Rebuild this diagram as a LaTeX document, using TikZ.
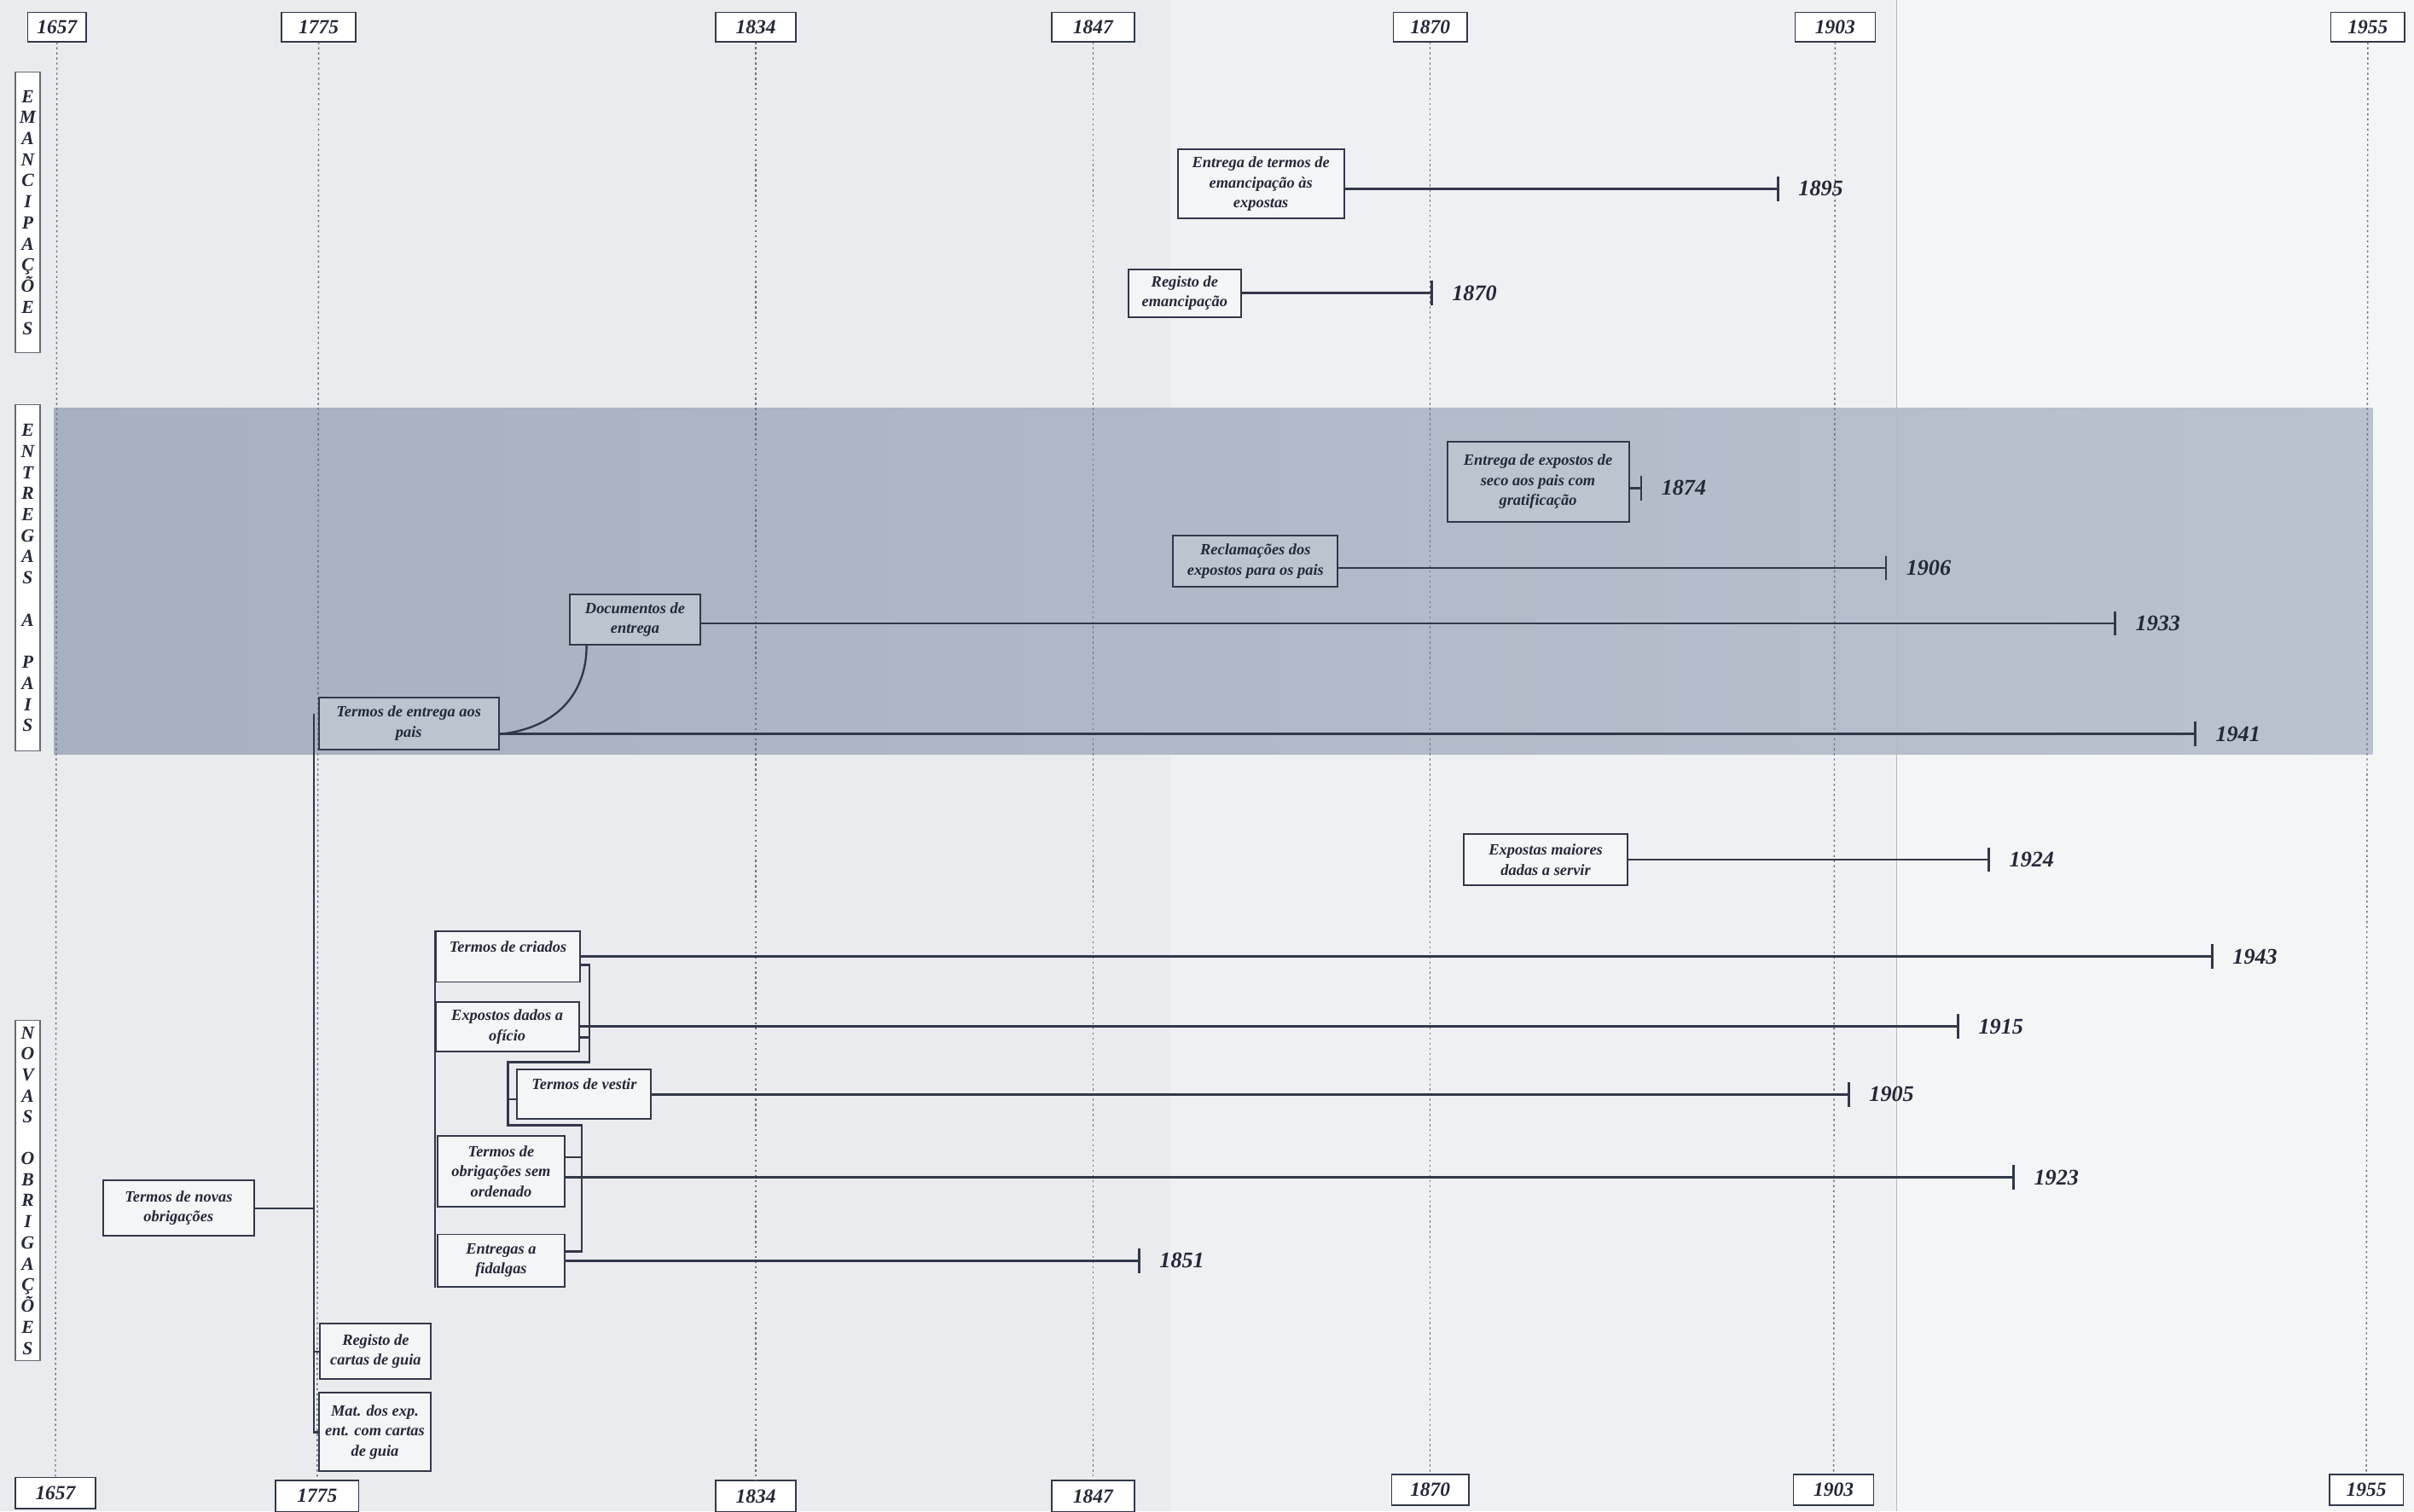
\documentclass[tikz,border=0pt]{standalone}
\usepackage{fontspec}
\setmainfont{Liberation Serif}
\definecolor{ink}{RGB}{50,56,74}
\definecolor{txt}{RGB}{36,40,56}
\definecolor{bandL}{RGB}{166,176,192}
\definecolor{bandR}{RGB}{186,194,207}
\definecolor{bandbox}{RGB}{188,196,208}
\definecolor{paperA}{RGB}{233,235,238}
\definecolor{paperB}{RGB}{239,240,243}
\definecolor{paperC}{RGB}{244,245,247}
\definecolor{dotc}{RGB}{105,112,128}
\definecolor{boxf}{RGB}{244,245,247}
\newcommand{\spanline}[4]{%
  \coordinate (#1-s) at ([yshift=-#2pt]#1.east);
  \coordinate (#1-e) at (#1-s -| #3,0);
  \draw[tl] (#1-s) -- (#1-e);
  \draw[tl] ([yshift=8pt]#1-e) -- ([yshift=-8pt]#1-e);
  \node[yr] (#1-y) at ([xshift=13pt]#1-e) {#4};
}
\begin{document}
\begin{tikzpicture}[x=1pt,y=-1pt,
  bx/.style={draw=ink, line width=1.1pt, fill=boxf, align=center,
    font=\fontsize{10.2}{13}\selectfont\bfseries\itshape, text=txt, inner sep=1pt},
  bb/.style={bx, fill=bandbox},
  yr/.style={font=\fontsize{14.5}{16}\selectfont\bfseries\itshape, text=txt, anchor=west, inner sep=0pt},
  ybox/.style={draw=ink, line width=0.9pt, fill=white, minimum height=19pt,
    font=\fontsize{13}{14}\selectfont\bfseries\itshape, text=txt, inner sep=0pt},
  cat/.style={draw=ink!75, line width=0.7pt, fill=white, minimum width=16pt, align=center,
    font=\fontsize{12}{13.7}\selectfont\bfseries\itshape, text=txt, inner sep=0pt},
  tl/.style={draw=ink, line width=1.6pt},
  cn/.style={draw=ink, line width=1.3pt},
  vl/.style={draw=dotc, line width=0.8pt, dash pattern=on 1.3pt off 2pt},
]
% background (scanned pages)
\useasboundingbox (0,0) rectangle (1568,982);
\fill[paperA] (0,0) rectangle (1568,982);
\fill[paperB] (760,0) rectangle (1232,982);
\fill[paperC] (1232,0) rectangle (1568,982);
\shade[left color=bandL, right color=bandR] (35,265) rectangle (1541,490);
\draw[ink!35, line width=0.6pt] (1232,0) -- (1232,982);

% year boxes
\node[ybox, minimum width=38pt] (t1657) at (37,17.5) {1657};
\node[ybox, minimum width=48pt] (t1775) at (207,17.5) {1775};
\node[ybox, minimum width=52pt] (t1834) at (491,17.5) {1834};
\node[ybox, minimum width=54pt] (t1847) at (710,17.5) {1847};
\node[ybox, minimum width=48pt] (t1870) at (929,17.5) {1870};
\node[ybox, minimum width=52pt] (t1903) at (1192,17.5) {1903};
\node[ybox, minimum width=48pt] (t1955) at (1538,17.5) {1955};
\node[ybox, minimum width=52pt, minimum height=20pt] (b1657) at (36,970) {1657};
\node[ybox, minimum width=54pt, minimum height=20pt] (b1775) at (206,972) {1775};
\node[ybox, minimum width=52pt, minimum height=20pt] (b1834) at (491,972) {1834};
\node[ybox, minimum width=54pt, minimum height=20pt] (b1847) at (710,972) {1847};
\node[ybox, minimum width=50pt, minimum height=20pt] (b1870) at (929,968) {1870};
\node[ybox, minimum width=52pt, minimum height=20pt] (b1903) at (1191,968) {1903};
\node[ybox, minimum width=48pt, minimum height=20pt] (b1955) at (1537,968) {1955};
\foreach \y in {1657,1775,1834,1847,1870,1903,1955}
  \draw[vl] (t\y.south) -- (b\y.north);

% category boxes
\node[cat, minimum height=182pt] (cEm) at (18,138)
  {E\\M\\A\\N\\C\\I\\P\\A\\Ç\\Õ\\E\\S};
\node[cat, minimum height=225pt] (cEn) at (18,375.5)
  {E\\N\\T\\R\\E\\G\\A\\S\\[13.7pt]A\\[13.7pt]P\\A\\I\\S};
\node[cat, minimum height=221pt] (cNo) at (18,773.5)
  {N\\O\\V\\A\\S\\[13.2pt]O\\B\\R\\I\\G\\A\\Ç\\Õ\\E\\S};

% emancipations
\node[bx, minimum width=108pt, minimum height=45pt] (e1) at (819,119.5)
  {Entrega de termos de\\emancipação às\\expostas};
\node[bx, minimum width=73pt, minimum height=31pt] (e2) at (769.5,190.5)
  {Registo de\\emancipação};
\spanline{e1}{3}{1155}{1895}
\spanline{e2}{0}{930}{1870}

% entregas a pais
\node[bb, minimum width=118pt, minimum height=52pt] (p1) at (999,313)
  {Entrega de expostos de\\seco aos pais com\\gratificação};
\node[bb, minimum width=107pt, minimum height=33pt] (p2) at (815.5,364.5)
  {Reclamações dos\\expostos para os pais};
\node[bb, minimum width=85pt, minimum height=33pt] (p3) at (412.5,402.5)
  {Documentos de\\entrega};
\node[bb, minimum width=117pt, minimum height=34pt] (p4) at (265.5,470)
  {Termos de entrega aos\\pais};
\spanline{p1}{4}{1066}{1874}
\spanline{p2}{4.5}{1225}{1906}
\spanline{p3}{2.5}{1374}{1933}
\spanline{p4}{7}{1426}{1941}
\draw[cn] (p4-s) .. controls +(38,-4) and +(0,30) .. (p3.south -| 381,0);

% novas obrigacoes
\node[bx, minimum width=106pt, minimum height=33pt] (m1) at (1004,558.5)
  {Expostas maiores\\dadas a servir};
\spanline{m1}{0}{1292}{1924}

\node[bx, minimum width=94pt, minimum height=33pt] (n1) at (330,621.5)
  {Termos de criados\\\mbox{}};
\node[bx, minimum width=93pt, minimum height=32pt] (n2) at (329.5,667)
  {Expostos dados a\\ofício};
\node[bx, minimum width=87pt, minimum height=32pt] (n3) at (379.5,711)
  {Termos de vestir\\\mbox{}};
\node[bx, minimum width=83pt, minimum height=46pt] (n4) at (325.5,761)
  {Termos de\\obrigações sem\\ordenado};
\node[bx, minimum width=83pt, minimum height=34pt] (n5) at (325.5,819)
  {Entregas a\\fidalgas};
\spanline{n1}{0}{1437}{1943}
\spanline{n2}{0}{1272}{1915}
\spanline{n3}{0}{1201}{1905}
\spanline{n4}{4}{1308}{1923}
\spanline{n5}{0}{740}{1851}

% chain between the boxes
\coordinate (k1) at (383,690);
\coordinate (k2) at (330,731);
\coordinate (k3) at (378,813);
\draw[cn] ([yshift=-5.5pt]n1.east) -| (k1) -| (k2) -| (k3) -- ([yshift=6pt]n5.east);
\draw[cn] ([yshift=-7pt]n2.east) -- ([yshift=-7pt]n2.east -| k1);
\draw[cn] ([yshift=-3pt]n3.west) -- ([yshift=-3pt]n3.west -| k2);
\draw[cn] ([yshift=9pt]n4.east) -- ([yshift=9pt]n4.east -| k3);
\draw[cn] (n1.north west) -- (n1.north west |- n5.south);

% 1775 branch
\node[bx, minimum width=98pt, minimum height=36pt] (n0) at (116,785)
  {Termos de novas\\obrigações};
\node[bx, minimum width=72pt, minimum height=36pt] (g1) at (244,878)
  {Registo de\\cartas de guia};
\node[bx, minimum width=73pt, minimum height=51pt] (g2) at (243.5,930.5)
  {Mat. dos exp.\\ent. com cartas\\de guia};
\coordinate (vt) at (204,464);
\draw[cn] (vt) -- (g2.west -| vt) -- (g2.west);
\draw[cn] (n0.east) -- (n0.east -| vt);
\draw[cn] (g1.west) -- (g1.west -| vt);
\end{tikzpicture}
\end{document}
